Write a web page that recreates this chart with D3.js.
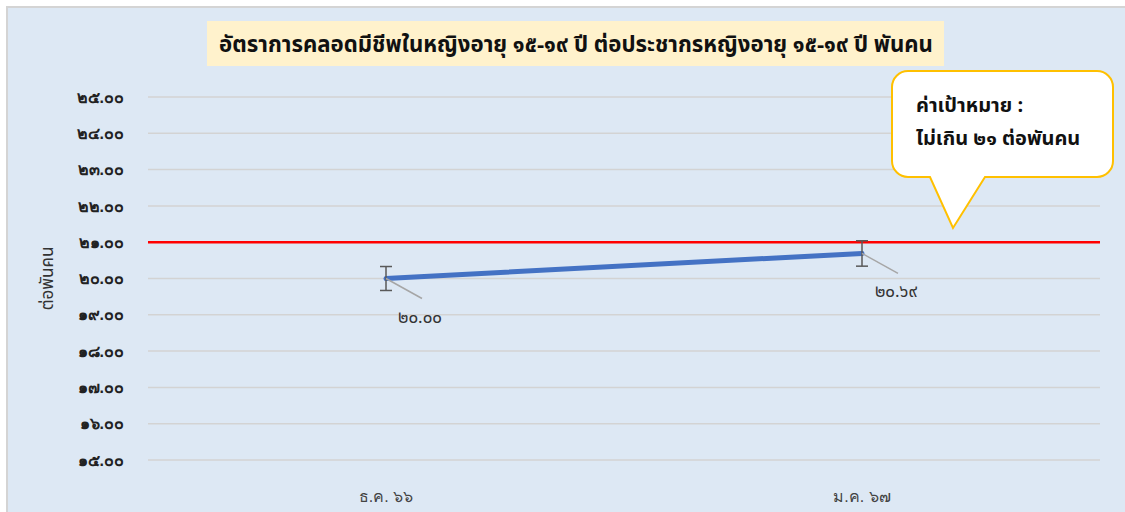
<!DOCTYPE html>
<html>
<head>
<meta charset="utf-8">
<script src="https://cdn.jsdelivr.net/npm/d3@7"></script>
<style>
  body { margin: 0; background: #fff; }
  svg { display: block; font-family: "Noto Sans Thai", "Leelawadee UI", Tahoma, "Noto Sans", sans-serif; }
</style>
</head>
<body>
<div id="chart"></div>
<script>
const width = 1125, height = 512;
const margin = { top: 97, right: 25, bottom: 52, left: 148 };

// data
const categories = ["ธ.ค. ๖๖", "ม.ค. ๖๗"];
const rates = [20.00, 20.69];
const errors = [0.33, 0.35];
const target = 21;
const yTicks = [15, 16, 17, 18, 19, 20, 21, 22, 23, 24, 25];
const titleText = "อัตราการคลอดมีชีพในหญิงอายุ ๑๕-๑๙ ปี ต่อประชากรหญิงอายุ ๑๕-๑๙ ปี พันคน";
const calloutLines = ["ค่าเป้าหมาย :", "ไม่เกิน ๒๑ ต่อพันคน"];

const thaiDigits = "๐๑๒๓๔๕๖๗๘๙";
const toThai = s => String(s).replace(/[0-9]/g, c => thaiDigits[+c]);

const svg = d3.select("#chart").append("svg").attr("width", width).attr("height", height);

// chart area background
svg.append("rect")
    .attr("x", 7).attr("y", 7).attr("width", width - 6).attr("height", height - 6)
    .attr("fill", "#dde8f4").attr("stroke", "#d4d4d4").attr("stroke-width", 2);

const x = d3.scaleBand().domain(categories).range([margin.left, width - margin.right]);
const y = d3.scaleLinear().domain([15, 25]).range([460, margin.top]);

// gridlines
svg.append("g").selectAll("line")
    .data(yTicks)
    .join("line")
    .attr("x1", margin.left).attr("x2", width - margin.right)
    .attr("y1", d => y(d)).attr("y2", d => y(d))
    .attr("stroke", "#d3d3d3").attr("stroke-width", 1.5);

// y axis
const yAxis = svg.append("g")
    .attr("transform", `translate(${margin.left - 21},0)`)
    .call(d3.axisLeft(y).tickValues(yTicks).tickSize(0).tickFormat(d => toThai(d.toFixed(2))));
yAxis.select(".domain").remove();
yAxis.selectAll("text").attr("font-size", 16).attr("font-weight", "bold").attr("fill", "#222").attr("font-family", null);

// x axis
const xAxis = svg.append("g")
    .attr("transform", `translate(0,${y(15) + 28})`)
    .call(d3.axisBottom(x).tickSize(0));
xAxis.select(".domain").remove();
xAxis.selectAll("text").attr("font-size", 16).attr("fill", "#444").attr("font-family", null);

// y title
svg.append("text")
    .attr("transform", `translate(53,${y(20)}) rotate(-90)`)
    .attr("text-anchor", "middle")
    .attr("font-size", 17).attr("fill", "#333")
    .text("ต่อพันคน");

// target line
svg.append("line")
    .attr("x1", margin.left).attr("x2", width - margin.right)
    .attr("y1", y(target)).attr("y2", y(target))
    .attr("stroke", "#ff0000").attr("stroke-width", 2.5);

const pts = categories.map((c, i) => ({ c, v: rates[i], e: errors[i] }));
const cx = d => x(d.c) + x.bandwidth() / 2;

// series line
svg.append("path")
    .datum(pts)
    .attr("fill", "none").attr("stroke", "#4472c4").attr("stroke-width", 5).attr("stroke-linecap", "round")
    .attr("d", d3.line().x(cx).y(d => y(d.v)));

// error bars
const eb = svg.append("g").attr("stroke", "#595959").attr("stroke-width", 1.5);
pts.forEach(d => {
    eb.append("line").attr("x1", cx(d)).attr("x2", cx(d)).attr("y1", y(d.v + d.e)).attr("y2", y(d.v - d.e));
    eb.append("line").attr("x1", cx(d) - 6).attr("x2", cx(d) + 6).attr("y1", y(d.v + d.e)).attr("y2", y(d.v + d.e));
    eb.append("line").attr("x1", cx(d) - 6).attr("x2", cx(d) + 6).attr("y1", y(d.v - d.e)).attr("y2", y(d.v - d.e));
});

// data labels with leader lines
pts.forEach(d => {
    svg.append("line")
        .attr("x1", cx(d)).attr("y1", y(d.v))
        .attr("x2", cx(d) + 36).attr("y2", y(d.v) + 20)
        .attr("stroke", "#a6a6a6").attr("stroke-width", 1.5);
    svg.append("text")
        .attr("x", cx(d) + 34).attr("y", y(d.v) + 44)
        .attr("text-anchor", "middle")
        .attr("font-size", 17).attr("fill", "#333")
        .text(toThai(d.v.toFixed(2)));
});

// title
const title = svg.append("g");
title.append("rect")
    .attr("x", 207).attr("y", 21).attr("width", 737).attr("height", 45)
    .attr("fill", "#fff2cc");
title.append("text")
    .attr("x", 576).attr("y", 52)
    .attr("text-anchor", "middle")
    .attr("font-size", 22.2).attr("font-weight", "bold").attr("fill", "#111")
    .text(titleText);

// callout
const bx = 892, by = 71, bw = 221, bh = 106, r = 16;
const tipX = 953, tipY = 228;
const callout = d3.path();
callout.moveTo(bx + r, by);
callout.lineTo(bx + bw - r, by);
callout.arcTo(bx + bw, by, bx + bw, by + r, r);
callout.lineTo(bx + bw, by + bh - r);
callout.arcTo(bx + bw, by + bh, bx + bw - r, by + bh, r);
callout.lineTo(985, by + bh);
callout.lineTo(tipX, tipY);
callout.lineTo(930, by + bh);
callout.lineTo(bx + r, by + bh);
callout.arcTo(bx, by + bh, bx, by + bh - r, r);
callout.lineTo(bx, by + r);
callout.arcTo(bx, by, bx + r, by, r);
callout.closePath();
svg.append("path")
    .attr("d", callout.toString())
    .attr("fill", "#fff").attr("stroke", "#ffc000").attr("stroke-width", 2);
svg.append("g").selectAll("text")
    .data(calloutLines)
    .join("text")
    .attr("x", 916).attr("y", (d, i) => 112 + i * 33)
    .attr("font-size", 20).attr("font-weight", "bold").attr("fill", "#111")
    .text(d => d);
</script>
</body>
</html>
